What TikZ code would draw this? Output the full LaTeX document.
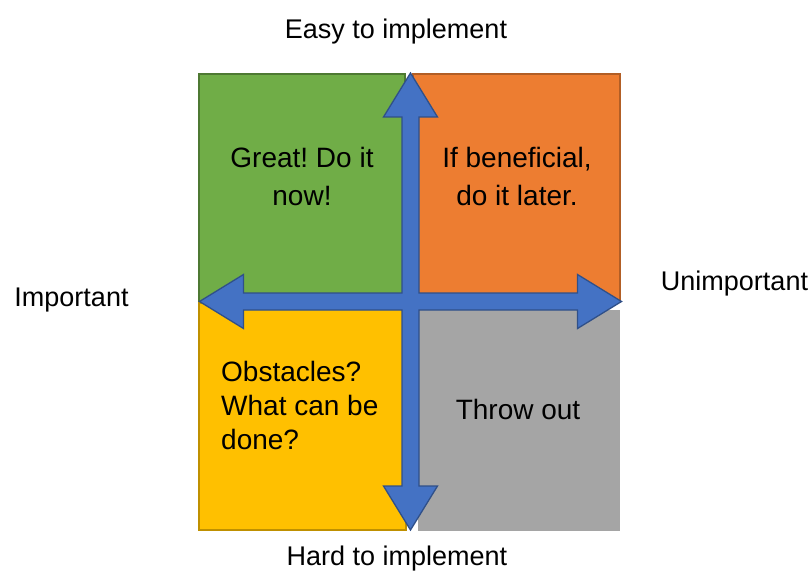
\documentclass[tikz,border=0pt]{standalone}
\usepackage{fontspec}
\setmainfont{Liberation Sans}
\usetikzlibrary{positioning}
\frenchspacing

\definecolor{easygood}{HTML}{70AD47}
\definecolor{easylater}{HTML}{ED7D31}
\definecolor{hardgood}{HTML}{FFC000}
\definecolor{hardbad}{HTML}{A5A5A5}
\definecolor{axisblue}{HTML}{4472C4}

\begin{document}
\begin{tikzpicture}[
        x=1pt,
        y=-1pt,
        quad/.style={
            line width=1.3pt,
            inner sep=0pt,
            outer sep=0pt
        },
        quadtext/.style={
            font=\fontsize{28}{38}\selectfont,
            inner sep=0pt
        },
        axislabel/.style={
            font=\fontsize{27}{32}\selectfont,
            inner sep=0pt,
            anchor=base
        },
        axis/.style={fill=axisblue, draw=axisblue!70!black, line width=1.3pt, line join=miter}
    ]
        % Fixed canvas so the page keeps its margins.
        \useasboundingbox (0,0) rectangle (811,572);

        % The four quadrants.
        \node[quad, fill=easygood, draw=easygood!70!black, minimum width=206, minimum height=228] (great) at (302,188) {};
        \node[quad, fill=easylater, draw=easylater!75!black, minimum width=207, minimum height=228] (later) at (516.5,188) {};
        \node[quad, fill=hardgood, draw=hardgood!75!black, minimum width=207, minimum height=227] (obst) at (302.5,416.5) {};
        \node[quad, fill=hardbad, minimum width=202, minimum height=221] (throw) at (519,420.5) {};

        % Four-headed axis arrow across the middle.
        \coordinate (hub) at (410.5,301.5);
        \begin{scope}[shift={(hub)}]
            \draw[axis] (0,-228.5) -- (27,-184.5) -- (8.5,-184.5) -- (8.5,-8.5)
                -- (167,-8.5) -- (167,-27) -- (211,0) -- (167,27) -- (167,8.5)
                -- (8.5,8.5) -- (8.5,184.5) -- (27,184.5) -- (0,228.5)
                -- (-27,184.5) -- (-8.5,184.5) -- (-8.5,8.5)
                -- (-167,8.5) -- (-167,27) -- (-211,0) -- (-167,-27) -- (-167,-8.5)
                -- (-8.5,-8.5) -- (-8.5,-184.5) -- (-27,-184.5) -- cycle;
        \end{scope}

        % Quadrant texts.
        \node[quadtext, align=center] (greattext) at (302,176) {Great! Do it\\now!};
        \node[quadtext, align=center] (latertext) at (517,176) {If beneficial,\\do it later.};
        \node[quadtext, align=left, anchor=west, font=\fontsize{28}{34}\selectfont] (obsttext) at (221,405) {Obstacles?\\What can be\\done?};
        \node[quadtext, anchor=base] (throwtext) at (518,419) {Throw out};

        % Axis labels.
        \node[axislabel] (easy) at (396,39) {Easy to implement};
        \node[axislabel] (hard) at (397,565) {Hard to implement};
        \node[axislabel] (imp) at (71.5,306) {Important};
        \node[axislabel] (unimp) at (734.5,290) {Unimportant};
    \end{tikzpicture}
\end{document}
